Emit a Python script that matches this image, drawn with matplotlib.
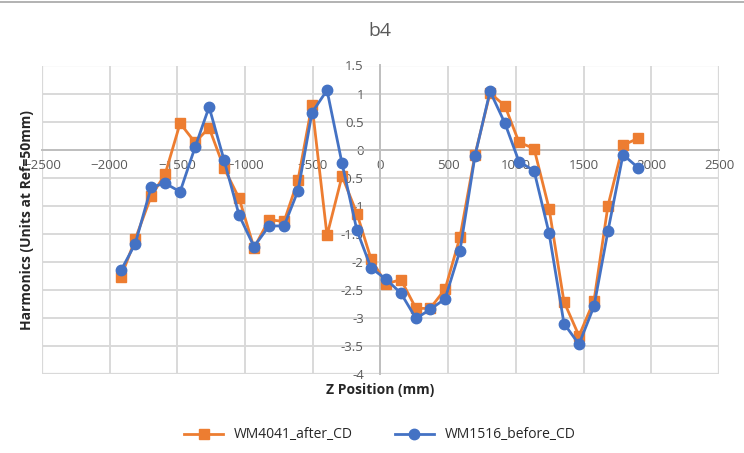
import matplotlib
matplotlib.use("Agg")
import matplotlib.pyplot as plt
from matplotlib.lines import Line2D

plt.rcParams['font.family'] = ['Open Sans', 'DejaVu Sans']

z_pos = [-1916, -1812, -1694, -1591, -1480, -1370, -1266, -1155, -1044, -934,
         -823, -712, -609, -506, -395, -284, -174, -70, 41, 151,
         262, 366, 477, 587, 698, 809, 919, 1023, 1134, 1245,
         1355, 1466, 1577, 1680, 1791, 1902]

wm4041_after = [-2.27, -1.60, -0.83, -0.44, 0.47, 0.13, 0.39, -0.33, -0.87, -1.75,
                -1.25, -1.28, -0.54, 0.80, -1.53, -0.47, -1.14, -1.95, -2.39, -2.32,
                -2.83, -2.83, -2.49, -1.56, -0.09, 1.01, 0.78, 0.13, 0.02, -1.05,
                -2.71, -3.32, -2.69, -1.00, 0.08, 0.20]

wm1516_before = [-2.15, -1.68, -0.67, -0.60, -0.75, 0.04, 0.76, -0.19, -1.17, -1.73,
                 -1.36, -1.36, -0.73, 0.66, 1.06, -0.245, -1.44, -2.11, -2.31, -2.56,
                 -3.01, -2.85, -2.66, -1.80, -0.11, 1.04, 0.47, -0.215, -0.375, -1.49,
                 -3.10, -3.47, -2.79, -1.45, -0.09, -0.32]

x_ticks = list(range(-2500, 2501, 500))
y_ticks = [1.5, 1, 0.5, 0, -0.5, -1, -1.5, -2, -2.5, -3, -3.5, -4]
y_tick_labels = ['1.5', '1', '0.5', '0', '-0.5', '-1', '-1.5', '-2', '-2.5', '-3', '-3.5', '-4']

ORANGE = '#ED7D31'
BLUE = '#4472C4'
GRID = '#d9d9d9'
TEXT = '#595959'

W, H = 744, 453
fig = plt.figure(figsize=(W / 100, H / 100), dpi=100)
ax = fig.add_axes([42 / W, 1 - 374 / H, (719 - 42) / W, (374 - 65.5) / H])

ax.set_xlim(-2500, 2500)
ax.set_ylim(-4, 1.5)
ax.set_xticks(x_ticks)
ax.set_yticks(y_ticks)
ax.set_yticklabels(y_tick_labels)
ax.grid(True, color=GRID, linewidth=1.4)
ax.set_axisbelow(True)

for side in ('top', 'right'):
    ax.spines[side].set_visible(False)
ax.spines['left'].set_position(('data', 0))
ax.spines['bottom'].set_position(('data', 0))
for side in ('left', 'bottom'):
    ax.spines[side].set_color('#bfbfbf')
    ax.spines[side].set_linewidth(1.4)

# outer frame of the plot area
for xv in (-2500, 2500):
    ax.axvline(xv, color=GRID, linewidth=1.6, zorder=0.5)
for yv in (-4, 1.5):
    ax.axhline(yv, color=GRID, linewidth=1.6, zorder=0.5)

ax.tick_params(axis='both', length=0, labelsize=9.5, colors=TEXT)
ax.tick_params(axis='y', pad=12)
ax.tick_params(axis='x', pad=7)

ax.plot(z_pos, wm4041_after, color=ORANGE, linewidth=2, marker='s', markersize=6.5,
        label='WM4041_after_CD', zorder=3)
ax.plot(z_pos, wm1516_before, color=BLUE, linewidth=2, marker='o', markersize=7.5,
        label='WM1516_before_CD', zorder=4)

fig.text(380 / W, 1 - 31 / H, 'b4', ha='center', va='center', fontsize=14, color=TEXT)
fig.text(380 / W, 1 - 390 / H, 'Z Position (mm)', ha='center', va='center',
         fontsize=10, fontweight='bold', color='#262626')
fig.text(27 / W, 1 - 220 / H, 'Harmonics (Units at Ref=50mm)', ha='center', va='center',
         rotation=90, fontsize=10, fontweight='bold', color='#262626')

handles, labels = ax.get_legend_handles_labels()
fig.legend(handles, labels, loc='center', bbox_to_anchor=(380 / W, 1 - 435 / H),
           ncol=2, frameon=False, fontsize=10, handlelength=2.8, columnspacing=3,
           labelcolor='#262626')

fig.add_artist(Line2D([0, 1], [1 - 2 / H, 1 - 2 / H], color='#a6a6a6', linewidth=1.2,
                      transform=fig.transFigure))

fig.savefig('out.png', dpi=100, facecolor='white')
